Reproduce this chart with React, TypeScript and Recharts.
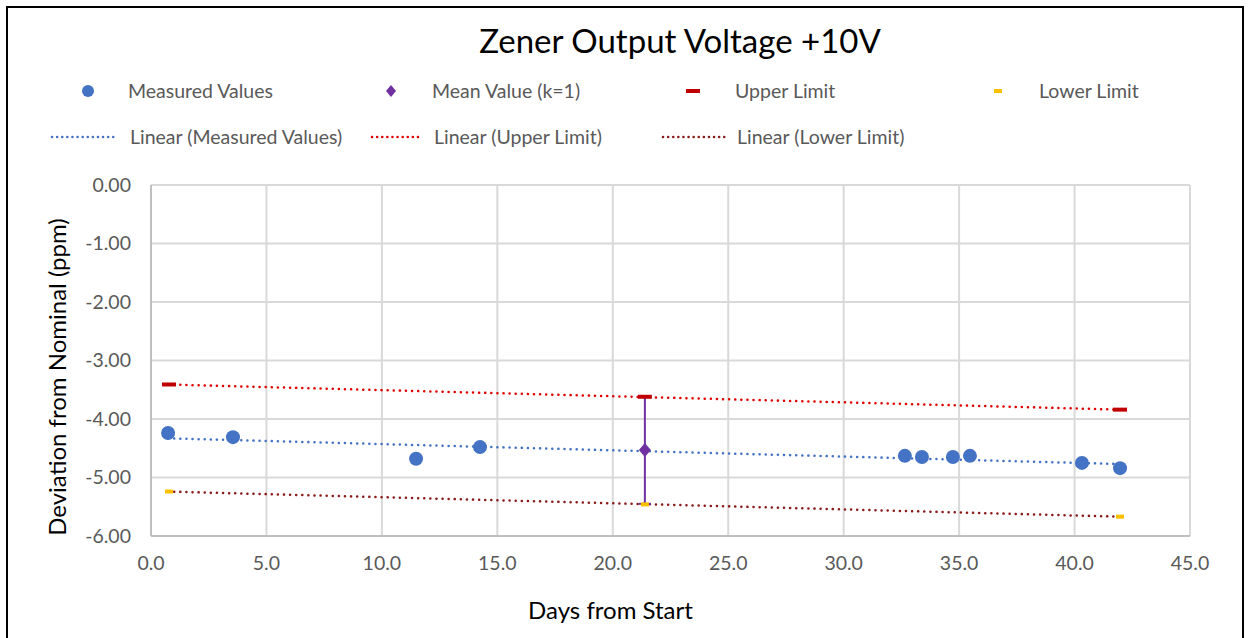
import React from "react";
import {
  ComposedChart,
  Scatter,
  Line,
  XAxis,
  YAxis,
  CartesianGrid,
  ErrorBar,
} from "recharts";

const measuredDays = [0.74, 3.55, 11.48, 14.25, 32.65, 33.39, 34.73, 35.47, 40.32, 41.97];
const measuredPpm = [-4.24, -4.31, -4.68, -4.48, -4.63, -4.65, -4.65, -4.63, -4.75, -4.84];

const meanDays = [21.39];
const meanPpm = [-4.53];
const meanErr = [0.92];

const limitDays = [0.78, 21.39, 41.97];
const upperPpm = [-3.41, -3.62, -3.84];
const lowerPpm = [-5.24, -5.46, -5.67];

const trendDays = [0.74, 41.97];
const trendMeasured = [-4.33, -4.77];
const trendUpper = [-3.41, -3.84];
const trendLower = [-5.24, -5.67];

const xTicks = [0, 5, 10, 15, 20, 25, 30, 35, 40, 45];
const yTicks = [0, -1, -2, -3, -4, -5, -6];

const pts = (xs: number[], ys: number[]) => xs.map((x, i) => ({ x, y: ys[i] }));

const measured = pts(measuredDays, measuredPpm);
const mean = meanDays.map((x, i) => ({ x, y: meanPpm[i], err: meanErr[i] }));
const upper = pts(limitDays, upperPpm);
const lower = pts(limitDays, lowerPpm);

const FONT = "Lato, 'Open Sans', sans-serif";
const GREY = "#595959";

const Diamond = (p: any) => (
  <polygon
    points={`${p.cx},${p.cy - 7} ${p.cx + 6},${p.cy} ${p.cx},${p.cy + 7} ${p.cx - 6},${p.cy}`}
    fill="#7030A0"
  />
);
const Dash = (color: string, w: number) => (p: any) => (
  <rect x={p.cx - w / 2} y={p.cy - 2} width={w} height={4} fill={color} />
);
const Dot = (p: any) => <circle cx={p.cx} cy={p.cy} r={7} fill="#4472C4" />;

const dotted = (color: string, w: number) => (
  <svg width={w} height={6} style={{ marginRight: 10, display: "block" }}>
    <line x1={2} y1={3} x2={w - 2} y2={3} stroke={color} strokeWidth={2.5} strokeDasharray="0.1 5" strokeLinecap="round" />
  </svg>
);

const legendText: React.CSSProperties = {
  position: "absolute",
  fontFamily: FONT,
  fontSize: 19.5,
  color: GREY,
  lineHeight: "22px",
  whiteSpace: "nowrap",
};

const marker: React.CSSProperties = { position: "absolute", display: "block" };

export default function App() {
  return (
    <div style={{ position: "fixed", left: 0, top: 0, width: 1251, height: 638, background: "#fff", overflow: "hidden" }}>
      <div style={{ position: "absolute", left: 6, top: 6, width: 1238, height: 640, border: "2px solid #000", boxSizing: "border-box" }} />
      <div style={{ position: "absolute", left: 0, width: 1360, top: 20, textAlign: "center", fontFamily: FONT, fontSize: 33, color: "#000" }}>
        Zener Output Voltage +10V
      </div>

      <svg width={14} height={14} style={{ ...marker, left: 81, top: 84 }}><circle cx={7} cy={7} r={6} fill="#4472C4" /></svg>
      <div style={{ ...legendText, left: 128, top: 80 }}>Measured Values</div>
      <svg width={12} height={14} style={{ ...marker, left: 385, top: 84 }}><polygon points="6,1 11,7 6,13 1,7" fill="#7030A0" /></svg>
      <div style={{ ...legendText, left: 432, top: 80 }}>Mean Value (k=1)</div>
      <svg width={14} height={6} style={{ ...marker, left: 686, top: 88 }}><rect x={0} y={1} width={14} height={4} fill="#C00000" /></svg>
      <div style={{ ...legendText, left: 735, top: 80 }}>Upper Limit</div>
      <svg width={8} height={6} style={{ ...marker, left: 994, top: 88 }}><rect x={0} y={1} width={8} height={4} fill="#FFC000" /></svg>
      <div style={{ ...legendText, left: 1039, top: 80 }}>Lower Limit</div>

      <div style={{ ...legendText, left: 50, top: 126, display: "flex", alignItems: "center" }}>
        {dotted("#4472C4", 70)}Linear (Measured Values)
      </div>
      <div style={{ ...legendText, left: 370, top: 126, display: "flex", alignItems: "center" }}>
        {dotted("#E00000", 54)}Linear (Upper Limit)
      </div>
      <div style={{ ...legendText, left: 661, top: 126, display: "flex", alignItems: "center" }}>
        {dotted("#8B1A1A", 66)}Linear (Lower Limit)
      </div>

      <div
        style={{
          position: "absolute",
          left: 56,
          top: 377,
          transform: "translate(-50%, -50%) rotate(-90deg)",
          whiteSpace: "nowrap",
          fontFamily: FONT,
          fontSize: 24,
          color: "#000",
        }}
      >
        Deviation from Nominal (ppm)
      </div>
      <div style={{ position: "absolute", left: 0, width: 1221, top: 595, textAlign: "center", fontFamily: FONT, fontSize: 24, color: "#000" }}>
        Days from Start
      </div>

      <div style={{ position: "absolute", left: 0, top: 0 }}>
        <ComposedChart width={1251} height={638} margin={{ top: 185, right: 61, bottom: 72, left: 0 }}>
          <CartesianGrid stroke="#D9D9D9" strokeWidth={2} />
          <XAxis
            type="number"
            dataKey="x"
            domain={[0, 45]}
            ticks={xTicks}
            interval={0}
            height={30}
            tickSize={0}
            tickMargin={20}
            tickFormatter={(v: number) => v.toFixed(1)}
            stroke="#BFBFBF"
            strokeWidth={2}
            tick={{ fill: GREY, fontSize: 19.5, fontFamily: FONT }}
          />
          <YAxis
            type="number"
            dataKey="y"
            domain={[-6, 0]}
            ticks={yTicks}
            interval={0}
            width={151}
            tickSize={0}
            tickMargin={20}
            tickFormatter={(v: number) => v.toFixed(2)}
            stroke="#BFBFBF"
            strokeWidth={2}
            tick={{ fill: GREY, fontSize: 19.5, fontFamily: FONT }}
          />
          <Line data={pts(trendDays, trendUpper)} dataKey="y" stroke="#E00000" strokeWidth={2.5} strokeDasharray="0.1 6" strokeLinecap="round" dot={false} isAnimationActive={false} />
          <Line data={pts(trendDays, trendLower)} dataKey="y" stroke="#8B1A1A" strokeWidth={2.5} strokeDasharray="0.1 6" strokeLinecap="round" dot={false} isAnimationActive={false} />
          <Line data={pts(trendDays, trendMeasured)} dataKey="y" stroke="#4472C4" strokeWidth={2.5} strokeDasharray="0.1 6" strokeLinecap="round" dot={false} isAnimationActive={false} />
          <Scatter data={upper} shape={Dash("#C00000", 14)} isAnimationActive={false} />
          <Scatter data={lower} shape={Dash("#FFC000", 8)} isAnimationActive={false} />
          <Scatter data={mean} shape={Diamond} isAnimationActive={false}>
            <ErrorBar dataKey="err" direction="y" stroke="#7030A0" strokeWidth={2} width={6} />
          </Scatter>
          <Scatter data={measured} shape={Dot} isAnimationActive={false} />
        </ComposedChart>
      </div>
    </div>
  );
}
